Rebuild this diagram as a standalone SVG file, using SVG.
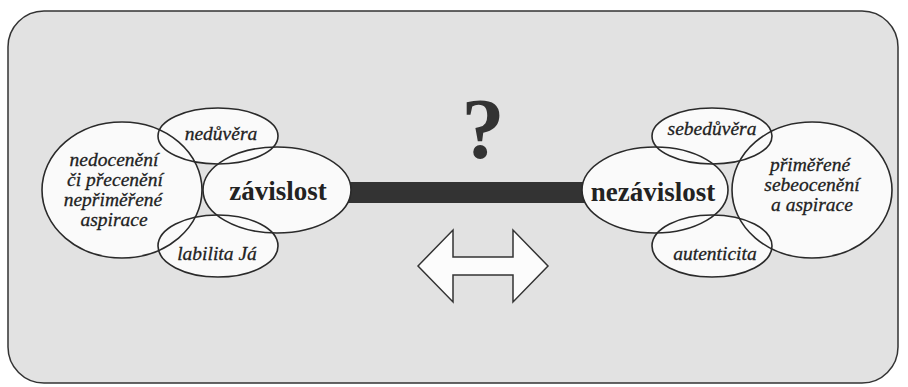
<svg xmlns="http://www.w3.org/2000/svg" width="908" height="387" viewBox="0 0 908 387">
<style>
.el{fill:#fafafa;stroke:none}
.ol{fill:none;stroke:#2a2a2a;stroke-width:1.6}
.it{font-family:"Liberation Serif","DejaVu Serif",serif;font-style:italic;font-size:19.5px;fill:#222;text-anchor:middle;stroke:#222;stroke-width:0.3}
.bd{font-family:"Liberation Serif","DejaVu Serif",serif;font-weight:bold;font-size:27px;fill:#222;text-anchor:middle}
</style>
<rect x="0" y="0" width="908" height="387" fill="#ffffff"/>
<rect x="8" y="11" width="890" height="372" rx="36" ry="36" fill="#e2e2e2" stroke="#333" stroke-width="1.5"/>
<g id="connectors">
<rect id="bar" x="345" y="182" width="240" height="21" fill="#333"/>
<polygon id="double-arrow" points="418,266 453,230 453,257 513,257 513,230 548,266 513,302 513,275 453,275 453,302" fill="#fcfcfc" stroke="#333" stroke-width="1.5"/>
</g>
<g id="question">
<text x="483" y="158" font-family="Liberation Serif, serif" font-weight="bold" font-size="86" fill="#333" text-anchor="middle">?</text>
</g>
<g id="n-nedoceneni"><ellipse class="el" cx="122" cy="190" rx="80" ry="68"/></g>
<g id="n-neduvera"><ellipse class="el" cx="218" cy="136" rx="60" ry="28"/></g>
<g id="n-labilita"><ellipse class="el" cx="218" cy="246" rx="60" ry="31"/></g>
<g id="n-zavislost"><ellipse class="el" cx="277" cy="190" rx="74" ry="43"/></g>
<g id="n-primerene"><ellipse class="el" cx="812" cy="190" rx="80" ry="68"/></g>
<g id="n-sebeduvera"><ellipse class="el" cx="712" cy="136" rx="60" ry="28"/></g>
<g id="n-autenticita"><ellipse class="el" cx="712" cy="246" rx="60" ry="31"/></g>
<g id="n-nezavislost"><ellipse class="el" cx="655" cy="190" rx="73" ry="43"/></g>
<g id="outlines">
<ellipse class="ol" cx="122" cy="190" rx="80" ry="68"/>
<ellipse class="ol" cx="218" cy="136" rx="60" ry="28"/>
<ellipse class="ol" cx="218" cy="246" rx="60" ry="31"/>
<ellipse class="ol" cx="277" cy="190" rx="74" ry="43"/>
<ellipse class="ol" cx="812" cy="190" rx="80" ry="68"/>
<ellipse class="ol" cx="712" cy="136" rx="60" ry="28"/>
<ellipse class="ol" cx="712" cy="246" rx="60" ry="31"/>
<ellipse class="ol" cx="655" cy="190" rx="73" ry="43"/>
</g>
<g id="labels">
<text class="it" x="114" y="166">nedocenění</text>
<text class="it" x="115" y="186">či přecenění</text>
<text class="it" x="113" y="206">nepřiměřené</text>
<text class="it" x="114" y="226">aspirace</text>
<text class="it" x="221" y="140">nedůvěra</text>
<text class="it" x="217" y="260">labilita Já</text>
<text class="bd" x="278" y="200">závislost</text>
<text class="bd" x="653" y="201">nezávislost</text>
<text class="it" x="712" y="135">sebedůvěra</text>
<text class="it" x="715" y="260">autenticita</text>
<text class="it" x="810" y="171">přiměřené</text>
<text class="it" x="812" y="191">sebeocenění</text>
<text class="it" x="812" y="211">a aspirace</text>
</g>
</svg>
